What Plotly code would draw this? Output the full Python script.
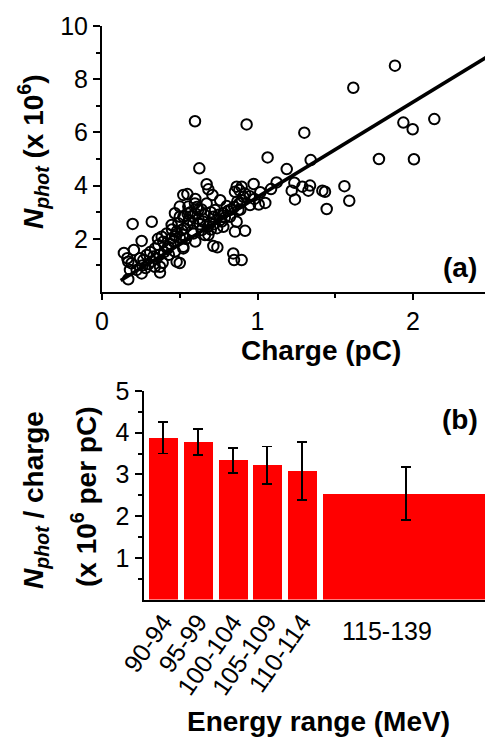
import plotly.graph_objects as go

# ---------------- data: panel (a) ----------------
charge_pC = [
    1.884, 1.616, 1.938, 1.998, 2.137, 1.301, 1.781, 2.006, 1.065, 1.342,
    1.188, 1.123, 1.087, 1.237, 1.220, 1.288, 1.338, 1.327, 1.241, 1.417,
    1.434, 1.559, 1.590, 1.445, 1.050, 0.930, 0.598, 0.626, 0.898, 0.975,
    1.018, 1.008, 0.890, 0.920, 0.898, 0.549, 0.673, 0.684, 0.710, 0.866,
    0.883, 0.855, 0.909, 0.883, 0.802, 0.855, 0.866, 0.727, 0.716, 0.759,
    0.780, 0.662, 0.716, 0.742, 0.844, 0.849, 0.598, 0.619, 0.555, 0.523,
    0.512, 0.523, 0.500, 0.587, 0.587, 0.641, 0.684, 0.695, 0.780, 0.823,
    0.877, 0.952, 0.673, 0.197, 0.320, 0.255, 0.141, 0.163, 0.205, 0.190,
    0.180, 0.169, 0.223, 0.255, 0.266, 0.287, 0.330, 0.373, 0.373, 0.480,
    0.469, 0.341, 0.523, 0.500, 0.500, 0.448, 0.416, 0.384, 0.394, 0.362,
    0.426, 0.448, 0.480, 0.491, 0.469, 0.523, 0.244, 0.169, 0.300, 0.320,
    0.350, 0.370, 0.400, 0.420, 0.440, 0.460, 0.470, 0.500, 0.520, 0.530,
    0.550, 0.560, 0.580, 0.600, 0.620, 0.630, 0.650, 0.660, 0.680, 0.700,
    0.720, 0.740, 0.750, 0.770, 0.790, 0.810, 0.830, 0.850, 0.870, 0.900,
    0.920, 0.570, 0.610, 0.640, 0.540, 0.580, 0.600, 0.430, 0.390, 0.340,
    0.280, 0.260, 0.310, 0.360, 0.450, 0.550, 0.600, 0.700, 0.760, 0.950,
    0.980,
]
n_phot_1e6 = [
    8.51, 7.68, 6.37, 6.12, 6.50, 5.99, 5.00, 4.99, 5.06, 4.96,
    4.62, 4.12, 3.87, 4.11, 3.81, 3.96, 4.00, 3.81, 3.48, 3.81,
    3.77, 3.98, 3.43, 3.12, 3.35, 6.30, 6.42, 4.65, 3.96, 4.06,
    3.75, 3.29, 3.10, 2.30, 1.20, 3.68, 4.05, 3.86, 3.65, 3.96,
    3.83, 3.77, 3.58, 3.33, 3.23, 2.27, 2.64, 3.08, 2.83, 2.70,
    2.96, 2.14, 1.73, 1.68, 1.45, 1.20, 3.33, 3.08, 3.21, 2.83,
    2.33, 1.70, 1.09, 2.58, 2.20, 2.33, 2.14, 2.58, 2.45, 2.83,
    3.08, 3.27, 3.33, 2.56, 2.64, 1.92, 1.47, 1.27, 1.58, 1.08,
    0.83, 0.48, 0.83, 0.70, 1.20, 1.39, 1.33, 0.73, 0.95, 1.14,
    1.52, 1.64, 3.65, 3.21, 2.83, 2.52, 2.20, 2.08, 1.89, 1.77,
    1.70, 2.02, 2.27, 2.58, 2.96, 1.64, 1.27, 1.14, 1.05, 1.15,
    1.25, 1.40, 1.50, 1.62, 1.80, 1.90, 2.10, 2.05, 2.15, 2.40,
    2.50, 2.70, 2.85, 2.95, 2.75, 2.55, 2.65, 2.90, 2.45, 2.35,
    2.55, 2.40, 2.90, 2.65, 2.80, 3.05, 3.10, 3.20, 3.40, 3.45,
    3.70, 3.00, 3.20, 3.10, 2.00, 2.30, 1.90, 1.40, 1.10, 0.95,
    0.90, 1.00, 1.50, 2.00, 2.35, 2.95, 3.50, 3.00, 3.45, 3.60,
    3.50,
]
fit_slope = 3.57          # x 10^6 photons per pC
fit_charge = [0.12, 2.6]  # extent of the fitted line

# ---------------- data: panel (b) ----------------
bin_lo = [90, 95, 100, 105, 110, 115]
bin_hi = [94, 99, 104, 109, 114, 139]
bin_labels = ["90-94", "95-99", "100-104", "105-109", "110-114", "115-139"]
ratio = [3.88, 3.77, 3.34, 3.22, 3.08, 2.54]
ratio_err = [0.38, 0.31, 0.30, 0.45, 0.69, 0.63]

a_xticks = [0, 1, 2]
a_xminor = [0.5, 1.5]
a_yticks = [2, 4, 6, 8, 10]
a_yminor = [1, 3, 5, 7, 9]
b_yticks = [1, 2, 3, 4, 5]
b_yminor = [0.5, 1.5, 2.5, 3.5, 4.5]
b_edge_ticks = [90, 95, 100, 105, 110, 115]

# ---------------- figure ----------------
W, H = 485, 737
FONT = "Liberation Sans, Arial, Helvetica, sans-serif"
TICKF = dict(family=FONT, size=25, color="black")
TITLEF = dict(family=FONT, size=28, color="black")

def px_x(p):
    return p / W

def px_y(p):
    return 1 - p / H

dom_ax = [px_x(102), 1.0]
dom_ay = [px_y(292), px_y(26)]
dom_bx = [px_x(143.5), 1.0]
dom_by = [px_y(599.5), px_y(391)]

centers = [(lo + hi) / 2 + 0.7 for lo, hi in zip(bin_lo, bin_hi)]
widths = [hi - lo + 0.2 for lo, hi in zip(bin_lo, bin_hi)]

fig = go.Figure()

fig.add_trace(go.Scatter(
    x=charge_pC, y=n_phot_1e6, mode="markers",
    marker=dict(symbol="circle-open", size=10.5, color="black",
                line=dict(width=2, color="black")),
    xaxis="x", yaxis="y", showlegend=False))

fig.add_trace(go.Scatter(
    x=fit_charge, y=[fit_slope * c for c in fit_charge], mode="lines",
    line=dict(color="black", width=3.5),
    xaxis="x", yaxis="y", showlegend=False))

fig.add_trace(go.Bar(
    x=centers, y=ratio, width=widths,
    marker=dict(color="#ff0000", line=dict(width=0)),
    error_y=dict(type="data", array=ratio_err, color="black",
                 thickness=1.8, width=5),
    xaxis="x2", yaxis="y2", showlegend=False))

axis_common = dict(showline=True, linecolor="black", linewidth=2,
                   showgrid=False, zeroline=False, tickcolor="black",
                   tickwidth=1.8, tickfont=TICKF, automargin=False)

fig.update_layout(
    width=W, height=H,
    margin=dict(l=0, r=0, t=0, b=0, pad=0, autoexpand=False),
    paper_bgcolor="white", plot_bgcolor="white",
    font=dict(family=FONT, color="black"),
    bargap=0,
    # ---- panel (a)
    xaxis=dict(domain=dom_ax, anchor="y", range=[0, 2.463],
               tickmode="array", tickvals=a_xticks, ticks="outside", ticklen=6,
               minor=dict(tickmode="array", tickvals=a_xminor, ticks="outside",
                          ticklen=3.5, tickwidth=1.8, tickcolor="black"),
               **axis_common),
    yaxis=dict(domain=dom_ay, anchor="x", range=[0, 10],
               tickmode="array", tickvals=a_yticks, ticks="outside", ticklen=7,
               minor=dict(tickmode="array", tickvals=a_yminor, ticks="outside",
                          ticklen=4, tickwidth=1.8, tickcolor="black"),
               **axis_common),
    xaxis3=dict(overlaying="x", side="top", anchor="y", range=[0, 2.463],
                tickmode="array", tickvals=a_xticks, ticks="inside", ticklen=5,
                showticklabels=False,
                minor=dict(tickmode="array", tickvals=a_xminor, ticks="inside",
                           ticklen=3, tickwidth=1.8, tickcolor="black"),
                **axis_common),
    yaxis3=dict(overlaying="y", side="right", anchor="x", range=[0, 10],
                tickmode="array", tickvals=a_yticks, ticks="inside", ticklen=5,
                showticklabels=False,
                minor=dict(tickmode="array", tickvals=a_yminor, ticks="inside",
                           ticklen=3, tickwidth=1.8, tickcolor="black"),
                **axis_common),
    # ---- panel (b)
    xaxis2=dict(domain=dom_bx, anchor="y2", range=[89.85, 139.05],
                tickmode="array", tickvals=centers[:5],
                ticktext=bin_labels[:5], ticks="", tickangle=-55,
                ticklabelstandoff=-4,
                **axis_common),
    xaxis4=dict(overlaying="x2", side="bottom", anchor="y2", range=[89.85, 139.05],
                tickmode="array", tickvals=b_edge_ticks, ticks="outside", ticklen=5,
                showticklabels=False, **axis_common),
    xaxis5=dict(overlaying="x2", side="top", anchor="y2", range=[89.85, 139.05],
                tickmode="linear", tick0=90, dtick=2.5, ticks="inside", ticklen=5,
                showticklabels=False, **axis_common),
    yaxis2=dict(domain=dom_by, anchor="x2", range=[0, 5],
                tickmode="array", tickvals=b_yticks, ticks="outside", ticklen=7,
                minor=dict(tickmode="array", tickvals=b_yminor, ticks="outside",
                           ticklen=4, tickwidth=1.8, tickcolor="black"),
                **axis_common),
)

ann = [
    dict(text="<b><i>N</i><sub><i>phot</i></sub> (x 10<sup>6</sup>)</b>",
         x=px_x(33), y=px_y(152), textangle=-90),
    dict(text="<b>Charge (pC)</b>", x=px_x(321), y=px_y(351)),
    dict(text="<b>(a)</b>", x=px_x(460), y=px_y(267)),
    dict(text="<b>(b)</b>", x=px_x(460), y=px_y(419)),
    dict(text="<b><i>N</i><sub><i>phot</i></sub> / charge</b>",
         x=px_x(35), y=px_y(500), textangle=-90),
    dict(text="<b>(x 10<sup>6</sup> per pC)</b>",
         x=px_x(84), y=px_y(497), textangle=-90),
    dict(text="<b>Energy range (MeV)</b>", x=px_x(318), y=px_y(721)),
]
for a in ann:
    fig.add_annotation(xref="paper", yref="paper", showarrow=False,
                       xanchor="center", yanchor="middle", font=TITLEF, **a)

fig.add_annotation(text=bin_labels[5], xref="x2", yref="paper",
                   x=(bin_lo[5] + bin_hi[5]) / 2 - 2, y=px_y(647),
                   showarrow=False, font=TICKF)

fig.write_html("out.html", config={"displayModeBar": False},
               post_script="document.body.style.margin='0px';")
